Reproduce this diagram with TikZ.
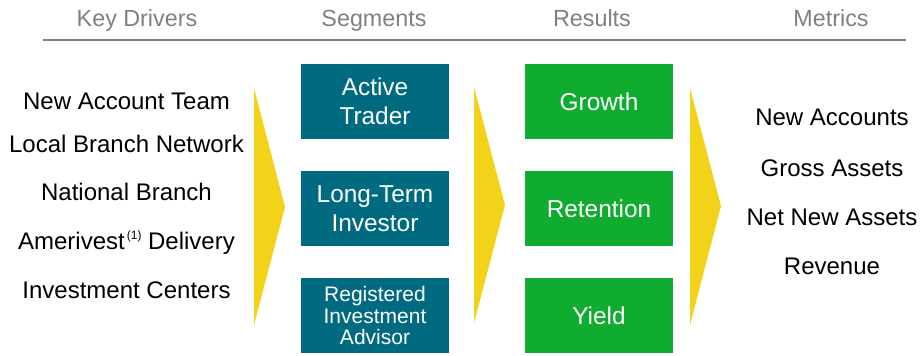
\documentclass[tikz,border=0pt]{standalone}
\usepackage{fontspec}
\setmainfont{Liberation Sans}
\usepackage{xcolor}
\usepackage{tikz}
\usetikzlibrary{positioning,calc}

\definecolor{headgray}{RGB}{128,128,128}
\definecolor{segteal}{RGB}{0,106,128}
\definecolor{resgreen}{RGB}{16,172,48}
\definecolor{chevyellow}{RGB}{242,211,25}

\begin{document}
\begin{tikzpicture}[
    x=0.75pt, y=-0.75pt,
    every node/.style={inner sep=0pt, outer sep=0pt},
    head/.style={text=headgray, anchor=base, font=\fontsize{17.5}{21}\selectfont},
    item/.style={anchor=base, font=\fontsize{18}{21}\selectfont},
    segment/.style={fill=segteal, text=white, align=center,
        minimum width=111pt, minimum height=56.25pt,
        font=\fontsize{18.3}{21.5}\selectfont},
    result/.style={segment, fill=resgreen},
    chevron/.style={fill=chevyellow}
]
\useasboundingbox (0,0) rectangle (920,356);

\node[head] (hdrivers)  at (137,27) {Key Drivers};
\node[head] (hsegments) at (374,27) {Segments};
\node[head] (hresults)  at (592,27) {Results};
\node[head] (hmetrics)  at (831,27) {Metrics};
\coordinate (rulew) at (43,40);
\coordinate (rulee) at (906,40);
\draw[headgray, line width=0.9pt] (rulew) -- (rulee);

\node[item] (d1) at (126.5,110) {New Account Team};
\node[item] (d2) at (126.5,152) {Local Branch Network};
\node[item] (d3) at (126.5,200) {National Branch};
\node[item] (d4) at (126.5,249) {Amerivest\kern1.5pt\raisebox{7.5pt}{\fontsize{9}{9}\selectfont(1)} Delivery};
\node[item] (d5) at (126.5,298) {Investment Centers};

\fill[chevron] (254,88) -- (285,207) -- (254,325) -- cycle;
\fill[chevron] (474,87) -- (505,205) -- (474,323) -- cycle;
\fill[chevron] (690,88) -- (721,206) -- (690,325) -- cycle;

\node[segment] (trader) at (375,101.5) {Active\\Trader};
\node[segment, below=24pt of trader] (investor) {Long-Term\\Investor};
\node[segment, below=24pt of investor, font=\fontsize{15.75}{16}\selectfont] (advisor)
    {Registered\\Investment\\Advisor};

\node[result] (growth) at (599,101.5) {Growth};
\node[result, below=24pt of growth] (retention) {Retention};
\node[result, below=24pt of retention] (yield) {Yield};

\node[item] (m1) at (832,126) {New Accounts};
\node[item] (m2) at (832,176) {Gross Assets};
\node[item] (m3) at (832,225) {Net New Assets};
\node[item] (m4) at (832,274) {Revenue};
\end{tikzpicture}
\end{document}
